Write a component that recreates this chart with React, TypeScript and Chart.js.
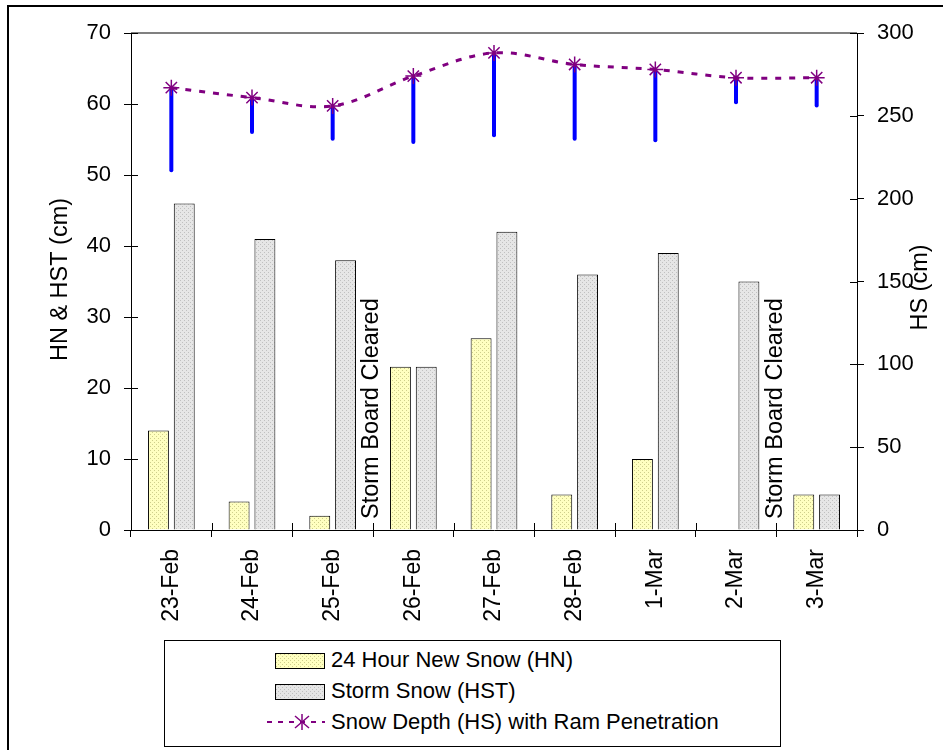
import React, { useEffect, useRef } from "react";
import { Chart, registerables } from "chart.js";

Chart.register(...registerables);

// ---------- data ----------
const categories = ["23-Feb", "24-Feb", "25-Feb", "26-Feb", "27-Feb", "28-Feb", "1-Mar", "2-Mar", "3-Mar"];
const newSnowHN: (number | null)[] = [14, 4, 2, 23, 27, 5, 10, null, 5];
const stormSnowHST = [46, 41, 38, 23, 42, 36, 39, 35, 5];
const snowDepthHS = [267, 261, 256, 274, 288, 281, 278, 273, 273];
const ramPenetrationBottom = [216, 239, 235, 233, 237, 235, 234, 257, 255];
const stormBoardClearedBefore = ["26-Feb", "3-Mar"];

const leftAxisRange = [0, 70];
const leftAxisStep = 10;
const rightAxisRange = [0, 300];
const rightAxisStep = 50;

const seriesNames = ["24 Hour New Snow (HN)", "Storm Snow (HST)", "Snow Depth (HS) with Ram Penetration"];
const leftTitle = "HN & HST (cm)";
const rightTitle = "HS (cm)";
const annotationText = "Storm Board Cleared";

const FONT = '"Liberation Sans", Arial, sans-serif';
const PURPLE = "#800080";

function makePattern(base: string, dot: string): HTMLCanvasElement {
  const c = document.createElement("canvas");
  c.width = 4;
  c.height = 4;
  const g = c.getContext("2d")!;
  g.fillStyle = base;
  g.fillRect(0, 0, 4, 4);
  g.fillStyle = dot;
  g.fillRect(0, 0, 1, 1);
  g.fillRect(2, 2, 1, 1);
  return c;
}

const decorPlugin = {
  id: "decor",
  afterDraw(chart: any) {
    const { ctx, chartArea: ca, scales } = chart;
    const x = scales.x;
    const half = (x.getPixelForValue(1) - x.getPixelForValue(0)) / 2;
    ctx.save();
    // top border of plot area
    ctx.strokeStyle = "#808080";
    ctx.lineWidth = 2;
    ctx.beginPath();
    ctx.moveTo(ca.left, ca.top);
    ctx.lineTo(ca.right, ca.top);
    ctx.stroke();
    // inner tick parts
    ctx.strokeStyle = "#000";
    ctx.lineWidth = 1;
    ctx.beginPath();
    scales.y.ticks.forEach((_: any, i: number) => {
      const py = Math.round(scales.y.getPixelForTick(i)) + 0.5;
      ctx.moveTo(ca.left, py);
      ctx.lineTo(ca.left + 7, py);
    });
    scales.y1.ticks.forEach((_: any, i: number) => {
      const py = Math.round(scales.y1.getPixelForTick(i)) + 0.5;
      ctx.moveTo(ca.right - 7, py);
      ctx.lineTo(ca.right, py);
    });
    for (let i = 0; i <= categories.length; i++) {
      const px = Math.round(x.getPixelForValue(0) - half + 2 * half * i) + 0.5;
      ctx.moveTo(px, ca.bottom - 7);
      ctx.lineTo(px, ca.bottom);
    }
    ctx.stroke();
    // annotations
    ctx.fillStyle = "#000";
    ctx.font = `23.5px ${FONT}`;
    stormBoardClearedBefore.forEach((cat) => {
      const idx = categories.indexOf(cat);
      const px = x.getPixelForValue(idx) - half - 1;
      ctx.save();
      ctx.translate(px, ca.bottom - 11);
      ctx.rotate(-Math.PI / 2);
      ctx.textAlign = "left";
      ctx.textBaseline = "middle";
      ctx.fillText(annotationText, 0, 0);
      ctx.restore();
    });
    // axis titles
    const cy = (ca.top + ca.bottom) / 2;
    ctx.save();
    ctx.translate(61, cy - 2);
    ctx.rotate(-Math.PI / 2);
    ctx.textAlign = "center";
    ctx.textBaseline = "middle";
    ctx.fillText(leftTitle, 0, 0);
    ctx.restore();
    ctx.save();
    ctx.translate(921, cy + 6);
    ctx.rotate(-Math.PI / 2);
    ctx.textAlign = "center";
    ctx.textBaseline = "middle";
    ctx.fillText(rightTitle, 0, 0);
    ctx.restore();
    ctx.restore();
  },
};

function Swatch({ url }: { url: string }) {
  return (
    <div
      style={{
        position: "absolute",
        left: 0,
        top: 0,
        width: 48,
        height: 14,
        border: "1px solid #000",
        backgroundImage: `url(${url})`,
      }}
    />
  );
}

export default function App() {
  const canvasRef = useRef<HTMLCanvasElement | null>(null);
  const [urls, setUrls] = React.useState<string[]>(["", ""]);

  useEffect(() => {
    const hnPat = makePattern("#FFFFC0", "#CFCF8C");
    const hstPat = makePattern("#E6E6E6", "#C0C0C0");
    setUrls([hnPat.toDataURL(), hstPat.toDataURL()]);
    const ctx = canvasRef.current!.getContext("2d")!;
    const hnFill = ctx.createPattern(hnPat, "repeat")!;
    const hstFill = ctx.createPattern(hstPat, "repeat")!;

    const chart = new Chart(ctx, {
      type: "bar",
      data: {
        labels: categories,
        datasets: [
          {
            type: "line",
            label: seriesNames[2],
            data: snowDepthHS,
            yAxisID: "y1",
            borderColor: PURPLE,
            borderWidth: 3,
            borderDash: [6, 8],
            tension: 0.35,
            pointStyle: "star",
            pointRadius: 8,
            pointBorderWidth: 1.5,
            pointBorderColor: PURPLE,
            pointBackgroundColor: PURPLE,
            order: 0,
          } as any,
          {
            type: "bar",
            label: "Ram",
            data: ramPenetrationBottom.map((b, i) => [b, snowDepthHS[i]]),
            yAxisID: "y1",
            grouped: false,
            maxBarThickness: 4,
            backgroundColor: "#0000FF",
            borderWidth: 0,
            borderRadius: 2,
            borderSkipped: false,
            order: 1,
          } as any,
          {
            type: "bar",
            label: seriesNames[0],
            data: newSnowHN,
            yAxisID: "y",
            backgroundColor: hnFill as any,
            borderColor: "#000",
            borderWidth: 1,
            categoryPercentage: 0.64,
            barPercentage: 0.81,
            order: 2,
          },
          {
            type: "bar",
            label: seriesNames[1],
            data: stormSnowHST,
            yAxisID: "y",
            backgroundColor: hstFill as any,
            borderColor: "#000",
            borderWidth: 1,
            categoryPercentage: 0.64,
            barPercentage: 0.81,
            order: 3,
          },
        ],
      },
      options: {
        responsive: false,
        animation: false,
        layout: { padding: { top: 33, left: 0, right: 0, bottom: 0 } },
        plugins: { legend: { display: false }, tooltip: { enabled: false } },
        scales: {
          x: {
            type: "category",
            grid: { offset: true, drawOnChartArea: false, tickLength: 7, color: "#000" },
            border: { color: "#000", width: 1 },
            ticks: {
              minRotation: 90,
              maxRotation: 90,
              padding: 12,
              color: "#000",
              font: { size: 23, family: FONT },
            },
            afterFit: (s: any) => {
              s.height = 220;
            },
          },
          y: {
            position: "left",
            min: leftAxisRange[0],
            max: leftAxisRange[1],
            grid: { drawOnChartArea: false, tickLength: 7, color: "#000" },
            border: { color: "#000", width: 1 },
            ticks: { stepSize: leftAxisStep, padding: 13, color: "#000", font: { size: 22, family: FONT } },
            afterFit: (s: any) => {
              s.width = 131;
            },
          },
          y1: {
            position: "right",
            min: rightAxisRange[0],
            max: rightAxisRange[1],
            grid: { drawOnChartArea: false, tickLength: 7, color: "#000" },
            border: { color: "#000", width: 1 },
            ticks: { stepSize: rightAxisStep, padding: 13, color: "#000", font: { size: 22, family: FONT } },
            afterFit: (s: any) => {
              s.width = 86;
            },
          },
        },
      } as any,
      plugins: [decorPlugin],
    });
    return () => chart.destroy();
  }, []);

  const textStyle: React.CSSProperties = {
    position: "absolute",
    left: 166,
    fontFamily: FONT,
    fontSize: 22,
    color: "#000",
    lineHeight: "22px",
    whiteSpace: "nowrap",
  };

  return (
    <div style={{ position: "absolute", left: 0, top: 0, width: 943, height: 750, overflow: "hidden", background: "#fff" }}>
      <div
        style={{
          position: "absolute",
          left: 7,
          top: 5,
          width: 1200,
          height: 1200,
          borderLeft: "2px solid #000",
          borderTop: "2px solid #000",
        }}
      />
      <canvas ref={canvasRef} width={943} height={750} style={{ position: "absolute", left: 0, top: 0, width: 943, height: 750 }} />
      <div
        style={{
          position: "absolute",
          left: 164,
          top: 640,
          width: 615,
          height: 105,
          border: "1px solid #000",
          background: "#fff",
        }}
      >
        <div style={{ position: "absolute", left: 110, top: 12 }}>
          <Swatch url={urls[0]} />
        </div>
        <div style={{ ...textStyle, top: 8 }}>{seriesNames[0]}</div>
        <div style={{ position: "absolute", left: 110, top: 43 }}>
          <Swatch url={urls[1]} />
        </div>
        <div style={{ ...textStyle, top: 39 }}>{seriesNames[1]}</div>
        <svg style={{ position: "absolute", left: 100, top: 70 }} width={62} height={22}>
          <line x1={2} y1={11} x2={60} y2={11} stroke={PURPLE} strokeWidth={2} strokeDasharray="5 6" />
          <g stroke={PURPLE} strokeWidth={1.5}>
            <line x1={37} y1={3} x2={37} y2={19} />
            <line x1={30} y1={5} x2={44} y2={17} />
            <line x1={44} y1={5} x2={30} y2={17} />
          </g>
        </svg>
        <div style={{ ...textStyle, top: 70 }}>{seriesNames[2]}</div>
      </div>
    </div>
  );
}
